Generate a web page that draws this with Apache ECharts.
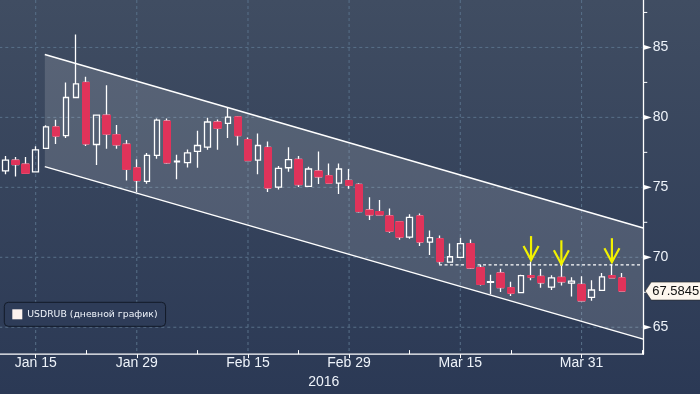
<!DOCTYPE html>
<html>
<head>
<meta charset="utf-8">
<script src="https://cdn.jsdelivr.net/npm/echarts@6/dist/echarts.min.js"></script>
<style>html,body{margin:0;padding:0;background:#2c3a55;}#c{width:700px;height:394px;}</style>
</head>
<body>
<div id="c"></div>
<script>
const categories = ['Jan 12','Jan 13','Jan 14','Jan 15','Jan 18','Jan 19','Jan 20','Jan 21','Jan 22','Jan 25','Jan 26','Jan 27','Jan 28','Jan 29','Feb 1','Feb 2','Feb 3','Feb 4','Feb 5','Feb 8','Feb 9','Feb 10','Feb 11','Feb 12','Feb 15','Feb 16','Feb 17','Feb 18','Feb 19','Feb 22','Feb 23','Feb 24','Feb 25','Feb 26','Feb 29','Mar 1','Mar 2','Mar 3','Mar 4','Mar 7','Mar 8','Mar 9','Mar 10','Mar 11','Mar 14','Mar 15','Mar 16','Mar 17','Mar 18','Mar 21','Mar 22','Mar 23','Mar 24','Mar 25','Mar 28','Mar 29','Mar 30','Mar 31','Apr 1','Apr 4','Apr 5','Apr 6','Apr 7','Apr 8'];
const opens  = [76.17,76.94,76.66,76.10,77.78,79.32,78.69,81.42,82.50,78.06,80.16,78.76,78.08,76.40,75.42,77.29,79.74,76.82,76.77,77.57,77.87,79.67,79.57,80.04,78.41,76.94,77.85,75.02,76.40,77.00,75.07,76.17,75.83,75.30,75.49,75.21,73.38,73.27,72.96,72.54,71.44,72.96,71.09,71.33,69.65,70.00,70.98,69.27,68.20,68.88,67.83,67.48,68.69,68.64,67.87,68.57,68.15,68.06,67.13,67.64,68.69,68.53];
const closes = [76.94,76.63,76.00,77.68,79.32,78.66,81.42,82.40,78.10,80.16,78.80,78.03,76.28,75.49,77.29,79.81,76.75,76.88,77.47,77.99,79.67,79.22,80.02,78.69,76.91,77.99,74.95,76.35,76.98,75.19,76.31,75.75,75.30,76.31,75.14,73.27,73.03,73.03,71.86,71.44,72.85,71.09,71.40,69.69,70.04,70.98,69.23,68.06,68.25,67.83,67.43,68.69,68.57,68.18,68.53,68.25,68.29,66.89,67.66,68.60,68.53,67.5845];
const lows   = [75.93,75.77,75.97,76.08,77.76,78.10,78.52,81.40,77.96,76.59,77.75,77.75,75.49,74.67,75.26,77.05,76.68,75.58,76.42,76.40,77.68,77.68,78.52,77.99,76.87,75.93,74.67,74.84,76.12,75.02,75.05,75.23,75.28,74.53,74.90,73.20,72.66,73.01,71.75,71.26,71.33,70.81,70.16,69.51,69.63,69.98,69.16,67.99,67.36,67.52,67.24,67.46,68.36,67.83,67.66,67.99,67.20,66.85,66.89,67.62,68.51,67.56];
const highs  = [77.24,77.17,77.17,77.94,79.43,79.83,82.50,85.93,82.90,80.18,82.30,79.46,78.38,77.00,77.45,79.92,79.92,77.33,77.71,79.04,79.97,79.85,80.67,80.09,78.57,78.85,78.27,76.52,77.87,77.24,76.47,77.57,76.70,76.70,76.31,75.30,74.30,74.09,73.48,72.60,73.08,73.13,71.91,71.56,70.98,71.40,71.28,69.46,68.76,69.18,68.25,68.76,69.69,69.16,68.71,69.46,68.57,68.64,68.36,68.88,69.51,68.88];

const xLabelIdx = [3, 13, 24, 34, 45, 57];
const xMinorIdx = [8, 19, 29, 40, 50, 63];
const yTicks = [65, 70, 75, 80, 85];
const yMinorTicks = [67.5, 72.5, 77.5, 82.5, 87.5];
const channelX = [3.9, 63.1];
const channelUpper = [84.5, 72.1];
const channelLower = [76.48, 64.15];
const resistanceX = [42.9, 63.0];
const resistanceLevel = 69.46;
const arrowIdx = [52, 55, 60];
const arrowTip = [69.8, 69.5, 69.65];
const lastPrice = 67.5845;
const seriesName = 'USDRUB (дневной график)';
const yearLabel = '2016';

const Y_MIN = 63.08, Y_MAX = 88.39;
const X_MIN = -0.5, X_MAX = 63.5, X_AXIS_END = 63.1;

const ohlc = opens.map((o, i) => [o, closes[i], lows[i], highs[i]]);
const downBodies = opens.map((o, i) => closes[i] < o ? [o, closes[i], closes[i], o] : '-');

const RED = '#e0335a';
const GRID_COLOR = '#587089';
const TEXT_COLOR = '#eef3fa';

const chart = echarts.init(document.getElementById('c'), null, {renderer: 'canvas'});

const option = {
  animation: false,
  backgroundColor: {type: 'linear', x: 0, y: 0, x2: 0, y2: 1,
    colorStops: [{offset: 0, color: '#404d62'}, {offset: 1, color: '#2b3955'}]},
  grid: {left: 0.3, right: 52.7, top: 0, bottom: 33.3, containLabel: false},
  legend: {
    left: 4.3, top: 302.3, padding: [7, 8, 7, 8], itemWidth: 10, itemHeight: 10, itemGap: 0,
    icon: 'rect', selectedMode: false,
    backgroundColor: '#2e3c58', borderColor: '#121a28', borderWidth: 1, borderRadius: 4,
    textStyle: {color: TEXT_COLOR, fontFamily: 'DejaVu Sans', fontSize: 9.3},
    data: [{name: seriesName, itemStyle: {color: '#fdf3ef', borderWidth: 0}}]
  },
  xAxis: [
    {
      type: 'category', data: categories, boundaryGap: true, position: 'bottom',
      axisLine: {show: false, onZero: false},
      axisTick: {show: true, alignWithLabel: true, length: 4, interval: (i) => xLabelIdx.includes(i),
        lineStyle: {color: '#ffffff', width: 1}},
      axisLabel: {interval: (i) => xLabelIdx.includes(i), color: TEXT_COLOR, fontFamily: 'Liberation Sans', fontSize: 14, margin: 2},
      splitLine: {show: false},
      name: yearLabel, nameLocation: 'middle', nameGap: 17,
      nameTextStyle: {color: TEXT_COLOR, fontFamily: 'Liberation Sans', fontSize: 14}
    },
    {
      type: 'category', data: categories, boundaryGap: true, position: 'bottom',
      axisLine: {show: false, onZero: false},
      axisTick: {show: true, inside: true, alignWithLabel: true, length: 4, interval: (i) => xMinorIdx.includes(i),
        lineStyle: {color: '#ffffff', width: 1}},
      axisLabel: {show: false}, splitLine: {show: false}
    },
    {type: 'value', min: X_MIN, max: X_MAX, show: false, position: 'bottom', axisLine: {onZero: false}}
  ],
  yAxis: {
    type: 'value', position: 'right', offset: -4, min: Y_MIN, max: Y_MAX, scale: true,
    splitNumber: 6, minInterval: 5, maxInterval: 5,
    axisLine: {show: true, onZero: false, lineStyle: {color: '#ffffff', width: 1.3}},
    axisTick: {show: false},
    splitLine: {show: false},
    axisLabel: {color: TEXT_COLOR, fontFamily: 'Liberation Sans', fontSize: 14, margin: 9.5,
      showMinLabel: false, showMaxLabel: false,
      formatter: (v) => yTicks.includes(Math.round(v * 100) / 100) ? String(Math.round(v)) : ''}
  },
  series: [
    {
      name: 'grid', type: 'custom', xAxisIndex: 2, yAxisIndex: 0, z: 1, silent: true, clip: false,
      data: [[0, Y_MIN]],
      renderItem: (params, api) => {
        const children = [];
        xLabelIdx.forEach((i) => {
          const a = api.coord([i, Y_MAX]), b = api.coord([i, Y_MIN]);
          children.push({type: 'line', shape: {x1: a[0], y1: a[1], x2: b[0], y2: b[1]},
            style: {stroke: GRID_COLOR, lineWidth: 1, lineDash: [3, 3]}});
        });
        yTicks.forEach((v) => {
          const a = api.coord([X_MIN, v]), b = api.coord([X_AXIS_END, v]);
          children.push({type: 'line', shape: {x1: a[0] - 1, y1: a[1], x2: b[0], y2: b[1]},
            style: {stroke: GRID_COLOR, lineWidth: 1, lineDash: [3, 3]}});
        });
        return {type: 'group', children};
      }
    },
    {
      name: 'channel', type: 'custom', xAxisIndex: 2, yAxisIndex: 0, z: 2, silent: true, clip: false,
      data: [[channelX[0], channelUpper[0]]],
      renderItem: (params, api) => {
        const u0 = api.coord([channelX[0], channelUpper[0]]);
        const u1 = api.coord([channelX[1], channelUpper[1]]);
        const l0 = api.coord([channelX[0], channelLower[0]]);
        const l1 = api.coord([channelX[1], channelLower[1]]);
        return {type: 'group', children: [
          {type: 'polygon', shape: {points: [u0, u1, l1, l0]}, style: {fill: 'rgba(255,255,255,0.14)'}},
          {type: 'line', shape: {x1: u0[0], y1: u0[1], x2: u1[0], y2: u1[1]}, style: {stroke: '#ffffff', lineWidth: 1.5}},
          {type: 'line', shape: {x1: l0[0], y1: l0[1], x2: l1[0], y2: l1[1]}, style: {stroke: '#ffffff', lineWidth: 1.5}}
        ]};
      }
    },
    {
      name: 'resistance', type: 'line', xAxisIndex: 2, yAxisIndex: 0, z: 3, silent: true,
      symbol: 'none', data: resistanceX.map((x) => [x, resistanceLevel]),
      lineStyle: {color: '#ffffff', width: 1.3, type: [3, 2.5]}
    },
    {
      name: seriesName, type: 'candlestick', xAxisIndex: 0, yAxisIndex: 0, z: 4, barWidth: 6,
      data: ohlc,
      itemStyle: {color: 'rgba(0,0,0,0)', color0: RED, borderColor: '#ffffff', borderColor0: '#ffffff', borderWidth: 1.3}
    },
    {
      name: 'downBodies', type: 'candlestick', xAxisIndex: 0, yAxisIndex: 0, z: 5, barWidth: 8,
      data: downBodies,
      itemStyle: {color: RED, color0: RED, borderColor: RED, borderColor0: RED, borderWidth: 1}
    },
    {
      name: 'arrows', type: 'custom', xAxisIndex: 2, yAxisIndex: 0, z: 6, silent: true, clip: false,
      data: arrowIdx.map((x, k) => [x, arrowTip[k]]),
      renderItem: (params, api) => {
        const p = api.coord([api.value(0), api.value(1)]);
        return {type: 'group', children: [
          {type: 'line', shape: {x1: p[0], y1: p[1], x2: p[0], y2: p[1] - 24}, style: {stroke: '#f2f200', lineWidth: 2.2}},
          {type: 'polyline', shape: {points: [[p[0] - 7.5, p[1] - 14], [p[0], p[1]], [p[0] + 7.5, p[1] - 14]]},
            style: {stroke: '#f2f200', lineWidth: 2.2, fill: null}}
        ]};
      }
    },
    {
      name: 'axisDecor', type: 'custom', xAxisIndex: 2, yAxisIndex: 0, z: 7, silent: true, clip: false,
      data: [[X_AXIS_END, lastPrice]],
      renderItem: (params, api) => {
        const children = [];
        const xa = api.coord([X_MIN, Y_MIN]), xb = api.coord([X_AXIS_END, Y_MIN]);
        children.push({type: 'line', shape: {x1: 0, y1: xa[1], x2: xb[0] + 0.6, y2: xb[1]}, style: {stroke: '#ffffff', lineWidth: 1.3}});
        yTicks.forEach((v) => {
          const p = api.coord([X_AXIS_END, v]);
          children.push({type: 'polygon', shape: {points: [[p[0], p[1] - 2.6], [p[0] + 8.5, p[1]], [p[0], p[1] + 2.6]]},
            style: {fill: '#ffffff'}});
        });
        yMinorTicks.forEach((v) => {
          const p = api.coord([X_AXIS_END, v]);
          children.push({type: 'line', shape: {x1: p[0], y1: p[1], x2: p[0] + 4, y2: p[1]}, style: {stroke: '#ffffff', lineWidth: 1}});
        });
        const q = api.coord([X_AXIS_END, lastPrice]);
        children.push({type: 'polygon', shape: {points: [[q[0] + 2, q[1]], [q[0] + 8, q[1] - 9], [q[0] + 62, q[1] - 9], [q[0] + 62, q[1] + 9], [q[0] + 8, q[1] + 9]]},
          style: {fill: '#fdf6ee', stroke: '#2a2a2a', lineWidth: 0.6}});
        children.push({type: 'text', x: q[0] + 9, y: q[1] + 0.5,
          style: {text: lastPrice.toFixed(4), fill: '#111111', font: '13px "Liberation Sans"', verticalAlign: 'middle', align: 'left'}});
        return {type: 'group', children};
      }
    }
  ]
};
chart.setOption(option);
</script>
</body>
</html>
